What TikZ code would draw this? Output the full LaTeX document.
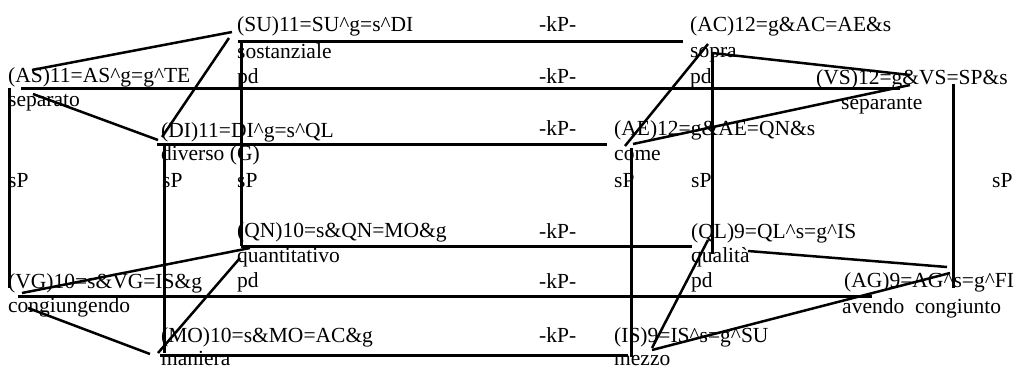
\documentclass[tikz,border=0pt]{standalone}
\usepackage{fontspec}
\setmainfont{Liberation Serif}
\usepackage{tikz}
\newcommand{\caret}{\textasciicircum}

\begin{document}
\begin{tikzpicture}[
  x=1pt, y=-1pt,
  lbl/.style={anchor=base west, inner sep=0pt, font=\fontsize{21.5}{24}\selectfont},
  rib/.style={line width=3pt},
  diag/.style={line width=2.5pt}
]
  \useasboundingbox (0,0) rectangle (1019,367);

  % labels, top half
  \node[lbl] (SU) at (237,31) {(SU)11=SU\caret g=s\caret DI};
  \node[lbl] (kP1) at (539,31) {-kP-};
  \node[lbl] (AC) at (690,31) {(AC)12=g\&AC=AE\&s};
  \node[lbl] (SUt) at (237,58) {sostanziale};
  \node[lbl] (ACt) at (690,57) {sopra};
  \node[lbl] (AS) at (8,82) {(AS)11=AS\caret g=g\caret TE};
  \node[lbl] (pd1) at (237,83) {pd};
  \node[lbl] (kP2) at (539,83) {-kP-};
  \node[lbl] (pd2) at (690,83) {pd};
  \node[lbl] (VS) at (816,84) {(VS)12=g\&VS=SP\&s};
  \node[lbl] (ASt) at (8,106) {separato};
  \node[lbl] (VSt) at (841,109) {separante};
  \node[lbl] (DI) at (161,137) {(DI)11=DI\caret g=s\caret QL};
  \node[lbl] (kP3) at (539,135) {-kP-};
  \node[lbl] (AE) at (614,135) {(AE)12=g\&AE=QN\&s};
  \node[lbl] (DIt) at (161,160) {diverso (G)};
  \node[lbl] (AEt) at (614,160) {come};

  % sP row
  \foreach \i/\x in {1/8, 2/162, 3/237, 4/614, 5/691, 6/992}
    \node[lbl] (sP\i) at (\x,187) {sP};

  % labels, bottom half
  \node[lbl] (QN) at (237,237) {(QN)10=s\&QN=MO\&g};
  \node[lbl] (kP4) at (539,238) {-kP-};
  \node[lbl] (QL) at (691,238) {(QL)9=QL\caret s=g\caret IS};
  \node[lbl] (QNt) at (237,262) {quantitativo};
  \node[lbl] (QLt) at (691,262) {qualità};
  \node[lbl] (VG) at (8,288) {(VG)10=s\&VG=IS\&g};
  \node[lbl] (pd3) at (237,287) {pd};
  \node[lbl] (kP5) at (539,288) {-kP-};
  \node[lbl] (pd4) at (691,287) {pd};
  \node[lbl] (AG) at (844,287) {(AG)9=AG\caret s=g\caret FI};
  \node[lbl] (VGt) at (8,312) {congiungendo};
  \node[lbl] (AGt) at (842,313) {avendo\ \ congiunto};
  \node[lbl] (MO) at (161,342) {(MO)10=s\&MO=AC\&g};
  \node[lbl] (kP6) at (539,342) {-kP-};
  \node[lbl] (IS) at (614,342) {(IS)9=IS\caret s=g\caret SU};
  \node[lbl] (MOt) at (161,365) {maniera};
  \node[lbl] (ISt) at (614,365) {mezzo};

  % end points of the triangle sides
  \coordinate (AS-a) at (32,70);   \coordinate (SU-a) at (232,32);
  \coordinate (SU-b) at (229,38);  \coordinate (DI-a) at (162,137);
  \coordinate (AS-b) at (33,94);   \coordinate (DI-b) at (158,140);
  \coordinate (AC-a) at (708,44);  \coordinate (AE-a) at (625,146);
  \coordinate (AC-b) at (712,53);  \coordinate (VS-a) at (910,75);
  \coordinate (AE-b) at (633,144); \coordinate (VS-b) at (910,85);
  \coordinate (VG-a) at (22,293);  \coordinate (QN-a) at (250,248);
  \coordinate (QN-b) at (240,258); \coordinate (MO-a) at (158,353);
  \coordinate (VG-b) at (28,308);  \coordinate (MO-b) at (150,354);
  \coordinate (QL-a) at (708,240); \coordinate (IS-a) at (652,348);
  \coordinate (QL-b) at (748,251); \coordinate (AG-a) at (947,267);
  \coordinate (IS-b) at (652,350); \coordinate (AG-b) at (950,273);

  % end points of the -kP- ribs
  \coordinate (SU-h) at (238,41);  \coordinate (AC-h) at (683,41);
  \coordinate (AS-h) at (21,88);   \coordinate (VS-h) at (900,88);
  \coordinate (DI-h) at (157,144); \coordinate (AE-h) at (607,144);
  \coordinate (QN-h) at (241,246); \coordinate (QL-h) at (692,246);
  \coordinate (VG-h) at (18,296);  \coordinate (AG-h) at (872,296);
  \coordinate (MO-h) at (160,355); \coordinate (IS-h) at (628,355);

  % end points of the sP ribs
  \coordinate (AS-v) at (9,88);    \coordinate (VG-v) at (9,288);
  \coordinate (DI-v) at (164,144); \coordinate (MO-v) at (164,353);
  \coordinate (SU-v) at (241,41);  \coordinate (QN-v) at (241,246);
  \coordinate (AE-v) at (631,148); \coordinate (IS-v) at (631,357);
  \coordinate (AC-v) at (712,53);  \coordinate (QL-v) at (712,254);
  \coordinate (VS-v) at (953,84);  \coordinate (AG-v) at (953,288);

  % triangles
  \draw[diag] (AS-a) -- (SU-a);
  \draw[diag] (SU-b) -- (DI-a);
  \draw[diag] (AS-b) -- (DI-b);
  \draw[diag] (AC-a) -- (AE-a);
  \draw[diag] (AC-b) -- (VS-a);
  \draw[diag] (AE-b) -- (VS-b);
  \draw[diag] (VG-a) -- (QN-a);
  \draw[diag] (QN-b) -- (MO-a);
  \draw[diag] (VG-b) -- (MO-b);
  \draw[diag] (QL-a) -- (IS-a);
  \draw[diag] (QL-b) -- (AG-a);
  \draw[diag] (IS-b) -- (AG-b);

  % -kP- ribs
  \draw[rib] (SU-h) -- (AC-h);
  \draw[rib] (AS-h) -- (VS-h);
  \draw[rib] (DI-h) -- (AE-h);
  \draw[rib] (QN-h) -- (QL-h);
  \draw[rib] (VG-h) -- (AG-h);
  \draw[rib] (MO-h) -- (IS-h);

  % sP ribs
  \draw[rib] (AS-v) -- (VG-v);
  \draw[rib] (DI-v) -- (MO-v);
  \draw[rib] (SU-v) -- (QN-v);
  \draw[rib] (AE-v) -- (IS-v);
  \draw[rib] (AC-v) -- (QL-v);
  \draw[rib] (VS-v) -- (AG-v);
\end{tikzpicture}
\end{document}
